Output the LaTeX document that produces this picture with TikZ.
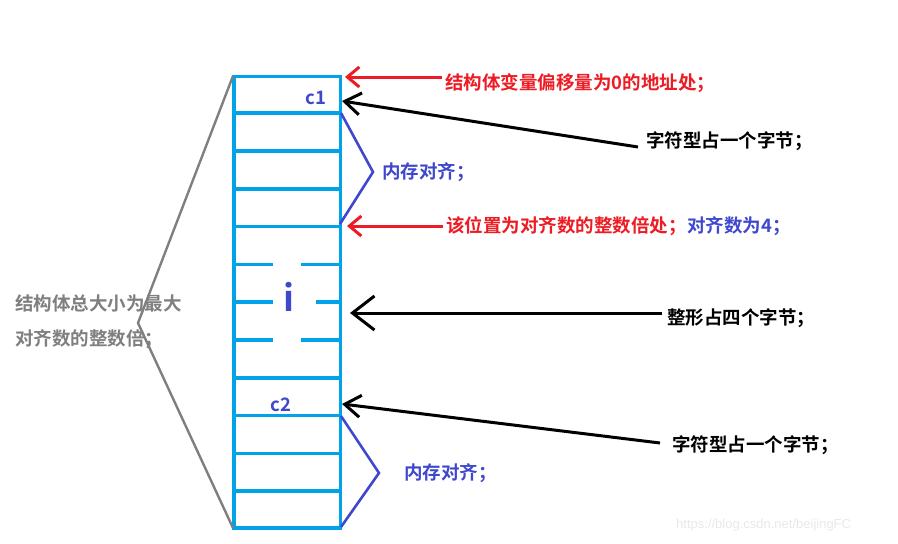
\documentclass[tikz,border=0pt]{standalone}
\usepackage{fontspec}
\setmainfont{Noto Sans CJK SC}[BoldFont={Noto Sans CJK SC Bold}]
\newfontfamily\webfont{Liberation Sans}
\usetikzlibrary{arrows.meta}
\definecolor{memcyan}{RGB}{0,162,232}
\definecolor{alignblue}{RGB}{63,72,204}
\definecolor{notered}{RGB}{237,28,36}
\definecolor{sizegrey}{RGB}{127,127,127}
\tikzset{
  cellline/.style={draw=memcyan, line width=3.5pt},
  note/.style={anchor=west, inner sep=0pt, font=\fontsize{18.5}{22}\selectfont\bfseries},
  rednote/.style={note, text=notered},
  bluenote/.style={note, text=alignblue},
  blacknote/.style={note, text=black},
  varname/.style={inner sep=0pt, text=alignblue, font=\fontsize{18.5}{22}\selectfont\bfseries},
  redpointer/.style={draw=notered, line width=3pt, -{Straight Barb[length=12pt,width=20pt]}},
  pointer/.style={draw=black, line width=3pt, -{Straight Barb[length=16pt,width=22pt]}},
  brace/.style={draw=alignblue, line width=2.6pt, line join=miter},
}

\begin{document}
\begin{tikzpicture}[x=1pt,y=-1pt]
\useasboundingbox (0,0) rectangle (898,544);

% memory block
\draw[cellline] (234,76.3) rectangle (340.5,528);
\foreach \y in {113.2,151,188.8,226.5,378,415.7,453.5,491.2}
  \draw[cellline] (234,\y) -- (340.5,\y);
\foreach \y in {264.3,340}
{
  \draw[cellline] (234,\y) -- (273,\y);
  \draw[cellline] (301,\y) -- (340.5,\y);
}
\draw[cellline] (234,302) -- (273,302);
\draw[cellline] (316,302) -- (340.5,302);

\node[varname] (c1) at (316,98) {c1};
\node[varname, font=\fontsize{36}{40}\selectfont\bfseries] (i) at (289,297) {i};
\node[varname] (c2) at (281,405) {c2};

% points on the block
\coordinate (base) at (345,77);
\coordinate (c1pt) at (342,101);
\coordinate (alignpt) at (347,226);
\coordinate (ipt) at (350,313);
\coordinate (c2pt) at (342,404);

% total size
\node[note, text=sizegrey, align=left, font=\fontsize{18.5}{35}\selectfont\bfseries] (total) at (15,322) {结构体总大小为最大\\对齐数的整数倍；};
\draw[sizegrey, line width=2.4pt] (233,76) -- (138,323) -- (233,528);

% notes on the right
\node[rednote] (offset) at (445,83) {结构体变量偏移量为0的地址处；};
\draw[redpointer] ([xshift=-3pt,yshift=6pt]offset.west) -- (base);

\node[blacknote] (char1) at (646,141) {字符型占一个字节；};
\draw[pointer] ([xshift=-8pt,yshift=-6pt]char1.west) -- (c1pt);

\node[bluenote] (pad1) at (382,172) {内存对齐；};
\draw[brace] (341,113) -- ([xshift=-9pt]pad1.west) -- (340,224);

\node[rednote] (multiple) at (446,226) {该位置为对齐数的整数倍处；};
\node[bluenote] (alignnum) at (multiple.east) {对齐数为4；};
\draw[redpointer] ([xshift=-3pt]multiple.west) -- (alignpt);

\node[blacknote] (int) at (667,318) {整形占四个字节；};
\draw[pointer, -{Straight Barb[length=22pt,width=34pt]}] ([xshift=-5pt,yshift=5pt]int.west) -- (ipt);

\node[blacknote] (char2) at (672,445) {字符型占一个字节；};
\draw[pointer] ([xshift=-12pt,yshift=2pt]char2.west) -- (c2pt);

\node[bluenote] (pad2) at (404,473) {内存对齐；};
\draw[brace] (341,416) -- ([xshift=-25pt]pad2.west) -- (341,527);

% watermark
\node[anchor=west, inner sep=0pt, text=black!9, font=\webfont\fontsize{13}{15}\selectfont] (mark) at (676,525) {https://blog.csdn.net/beijingFC};
\end{tikzpicture}
\end{document}
